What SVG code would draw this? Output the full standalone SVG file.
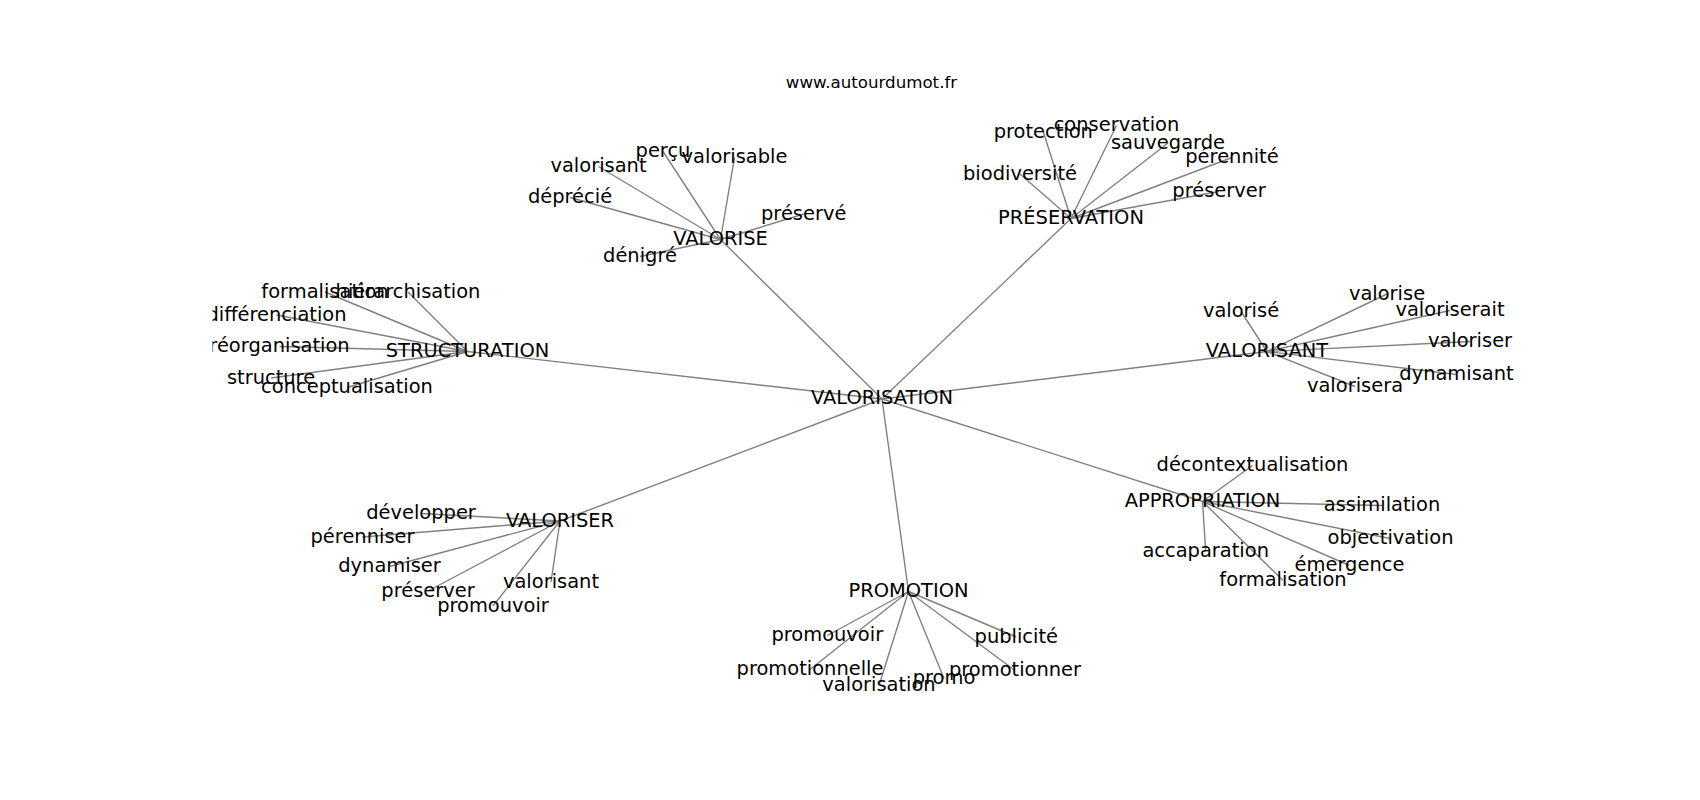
<svg xmlns="http://www.w3.org/2000/svg" width="1700" height="800" viewBox="0 0 1700 800">
<style>
.e{stroke:#808080;stroke-width:1.39;fill:none}
.t{font-family:"DejaVu Sans","Liberation Sans",sans-serif;font-size:19.44px;fill:#000;text-anchor:middle}
.title{font-family:"DejaVu Sans","Liberation Sans",sans-serif;font-size:16.67px;fill:#000;text-anchor:middle}
</style>
<defs>
<clipPath id="axes"><rect x="212.5" y="96" width="1317.5" height="616"/></clipPath>
</defs>
<rect width="1700" height="800" fill="#fff"/>
<text class="title" x="871.5" y="88">www.autourdumot.fr</text>
<g id="connectors" clip-path="url(#axes)">
<line class="e" x1="882" y1="399" x2="720.5" y2="239.5"/>
<line class="e" x1="882" y1="399" x2="1071" y2="218.5"/>
<line class="e" x1="882" y1="399" x2="467.5" y2="351.5"/>
<line class="e" x1="882" y1="399" x2="1267" y2="351.5"/>
<line class="e" x1="882" y1="399" x2="560" y2="521"/>
<line class="e" x1="882" y1="399" x2="908.5" y2="591.5"/>
<line class="e" x1="882" y1="399" x2="1202.5" y2="501.5"/>
<line class="e" x1="720.5" y1="239.5" x2="663" y2="151.5"/>
<line class="e" x1="720.5" y1="239.5" x2="734.5" y2="157.5"/>
<line class="e" x1="720.5" y1="239.5" x2="598.5" y2="166.5"/>
<line class="e" x1="720.5" y1="239.5" x2="570" y2="197.5"/>
<line class="e" x1="720.5" y1="239.5" x2="803.7" y2="214"/>
<line class="e" x1="720.5" y1="239.5" x2="640" y2="256.5"/>
<line class="e" x1="1071" y1="218.5" x2="1043.3" y2="132"/>
<line class="e" x1="1071" y1="218.5" x2="1116.5" y2="125.5"/>
<line class="e" x1="1071" y1="218.5" x2="1168" y2="143"/>
<line class="e" x1="1071" y1="218.5" x2="1232" y2="157.5"/>
<line class="e" x1="1071" y1="218.5" x2="1020" y2="174"/>
<line class="e" x1="1071" y1="218.5" x2="1219" y2="191.5"/>
<line class="e" x1="467.5" y1="351.5" x2="325" y2="292"/>
<line class="e" x1="467.5" y1="351.5" x2="408" y2="292"/>
<line class="e" x1="467.5" y1="351.5" x2="276.5" y2="315"/>
<line class="e" x1="467.5" y1="351.5" x2="279.5" y2="346.5"/>
<line class="e" x1="467.5" y1="351.5" x2="271" y2="378"/>
<line class="e" x1="467.5" y1="351.5" x2="347" y2="387.5"/>
<line class="e" x1="1267" y1="351.5" x2="1241" y2="311.5"/>
<line class="e" x1="1267" y1="351.5" x2="1387" y2="294"/>
<line class="e" x1="1267" y1="351.5" x2="1450" y2="310.5"/>
<line class="e" x1="1267" y1="351.5" x2="1470" y2="341.5"/>
<line class="e" x1="1267" y1="351.5" x2="1456.5" y2="374.5"/>
<line class="e" x1="1267" y1="351.5" x2="1355" y2="386.5"/>
<line class="e" x1="560" y1="521" x2="421" y2="513.5"/>
<line class="e" x1="560" y1="521" x2="362.5" y2="537"/>
<line class="e" x1="560" y1="521" x2="389.5" y2="566.5"/>
<line class="e" x1="560" y1="521" x2="428" y2="591"/>
<line class="e" x1="560" y1="521" x2="551" y2="582"/>
<line class="e" x1="560" y1="521" x2="493" y2="606"/>
<line class="e" x1="908.5" y1="591.5" x2="827.3" y2="635.5"/>
<line class="e" x1="908.5" y1="591.5" x2="1016.3" y2="637"/>
<line class="e" x1="908.5" y1="591.5" x2="810" y2="669.5"/>
<line class="e" x1="908.5" y1="591.5" x2="879" y2="685.5"/>
<line class="e" x1="908.5" y1="591.5" x2="944" y2="678.5"/>
<line class="e" x1="908.5" y1="591.5" x2="1015" y2="670.5"/>
<line class="e" x1="1202.5" y1="501.5" x2="1252.5" y2="465.5"/>
<line class="e" x1="1202.5" y1="501.5" x2="1382" y2="505.5"/>
<line class="e" x1="1202.5" y1="501.5" x2="1390.5" y2="538.5"/>
<line class="e" x1="1202.5" y1="501.5" x2="1349.5" y2="565.5"/>
<line class="e" x1="1202.5" y1="501.5" x2="1205.7" y2="551.5"/>
<line class="e" x1="1202.5" y1="501.5" x2="1283" y2="580.5"/>
</g>
<g id="nodes" clip-path="url(#axes)">
<g id="n-valorisation"><text class="t" x="882" y="404">VALORISATION</text></g>
<g id="n-valorise"><text class="t" x="720.5" y="245">VALORISE</text></g>
<g id="n-preservation"><text class="t" x="1071" y="224">PRÉSERVATION</text></g>
<g id="n-structuration"><text class="t" x="467.5" y="357">STRUCTURATION</text></g>
<g id="n-valorisant"><text class="t" x="1267" y="357">VALORISANT</text></g>
<g id="n-valoriser"><text class="t" x="560" y="526.5">VALORISER</text></g>
<g id="n-promotion"><text class="t" x="908.5" y="597">PROMOTION</text></g>
<g id="n-appropriation"><text class="t" x="1202.5" y="507">APPROPRIATION</text></g>
<g id="n-percu"><text class="t" x="663" y="157">perçu</text></g>
<g id="n-valorisable"><text class="t" x="734.5" y="163">valorisable</text></g>
<g id="n-valorisant-1"><text class="t" x="598.5" y="172">valorisant</text></g>
<g id="n-deprecie"><text class="t" x="570" y="203">déprécié</text></g>
<g id="n-preserve"><text class="t" x="803.7" y="219.5">préservé</text></g>
<g id="n-denigre"><text class="t" x="640" y="262">dénigré</text></g>
<g id="n-protection"><text class="t" x="1043.3" y="137.5">protection</text></g>
<g id="n-conservation"><text class="t" x="1116.5" y="131">conservation</text></g>
<g id="n-sauvegarde"><text class="t" x="1168" y="148.5">sauvegarde</text></g>
<g id="n-perennite"><text class="t" x="1232" y="163">pérennité</text></g>
<g id="n-biodiversite"><text class="t" x="1020" y="179.5">biodiversité</text></g>
<g id="n-preserver-1"><text class="t" x="1219" y="197">préserver</text></g>
<g id="n-formalisation-1"><text class="t" x="325" y="297.5">formalisation</text></g>
<g id="n-hierarchisation"><text class="t" x="408" y="297.5">hiérarchisation</text></g>
<g id="n-differenciation"><text class="t" x="276.5" y="320.5">différenciation</text></g>
<g id="n-reorganisation"><text class="t" x="279.5" y="352">réorganisation</text></g>
<g id="n-structure"><text class="t" x="271" y="383.5">structure</text></g>
<g id="n-conceptualisation"><text class="t" x="347" y="393">conceptualisation</text></g>
<g id="n-valorise-1"><text class="t" x="1241" y="317">valorisé</text></g>
<g id="n-valorise-2"><text class="t" x="1387" y="299.5">valorise</text></g>
<g id="n-valoriserait"><text class="t" x="1450" y="316">valoriserait</text></g>
<g id="n-valoriser-1"><text class="t" x="1470" y="347">valoriser</text></g>
<g id="n-dynamisant"><text class="t" x="1456.5" y="380">dynamisant</text></g>
<g id="n-valorisera"><text class="t" x="1355" y="392">valorisera</text></g>
<g id="n-developper"><text class="t" x="421" y="519">développer</text></g>
<g id="n-perenniser"><text class="t" x="362.5" y="542.5">pérenniser</text></g>
<g id="n-dynamiser"><text class="t" x="389.5" y="572">dynamiser</text></g>
<g id="n-preserver-2"><text class="t" x="428" y="596.5">préserver</text></g>
<g id="n-valorisant-2"><text class="t" x="551" y="587.5">valorisant</text></g>
<g id="n-promouvoir-1"><text class="t" x="493" y="611.5">promouvoir</text></g>
<g id="n-promouvoir-2"><text class="t" x="827.3" y="641">promouvoir</text></g>
<g id="n-publicite"><text class="t" x="1016.3" y="642.5">publicité</text></g>
<g id="n-promotionnelle"><text class="t" x="810" y="675">promotionnelle</text></g>
<g id="n-valorisation-1"><text class="t" x="879" y="691">valorisation</text></g>
<g id="n-promo"><text class="t" x="944" y="684">promo</text></g>
<g id="n-promotionner"><text class="t" x="1015" y="676">promotionner</text></g>
<g id="n-decontextualisation"><text class="t" x="1252.5" y="471">décontextualisation</text></g>
<g id="n-assimilation"><text class="t" x="1382" y="511">assimilation</text></g>
<g id="n-objectivation"><text class="t" x="1390.5" y="544">objectivation</text></g>
<g id="n-emergence"><text class="t" x="1349.5" y="571">émergence</text></g>
<g id="n-accaparation"><text class="t" x="1205.7" y="557">accaparation</text></g>
<g id="n-formalisation-2"><text class="t" x="1283" y="586">formalisation</text></g>
</g>
</svg>
